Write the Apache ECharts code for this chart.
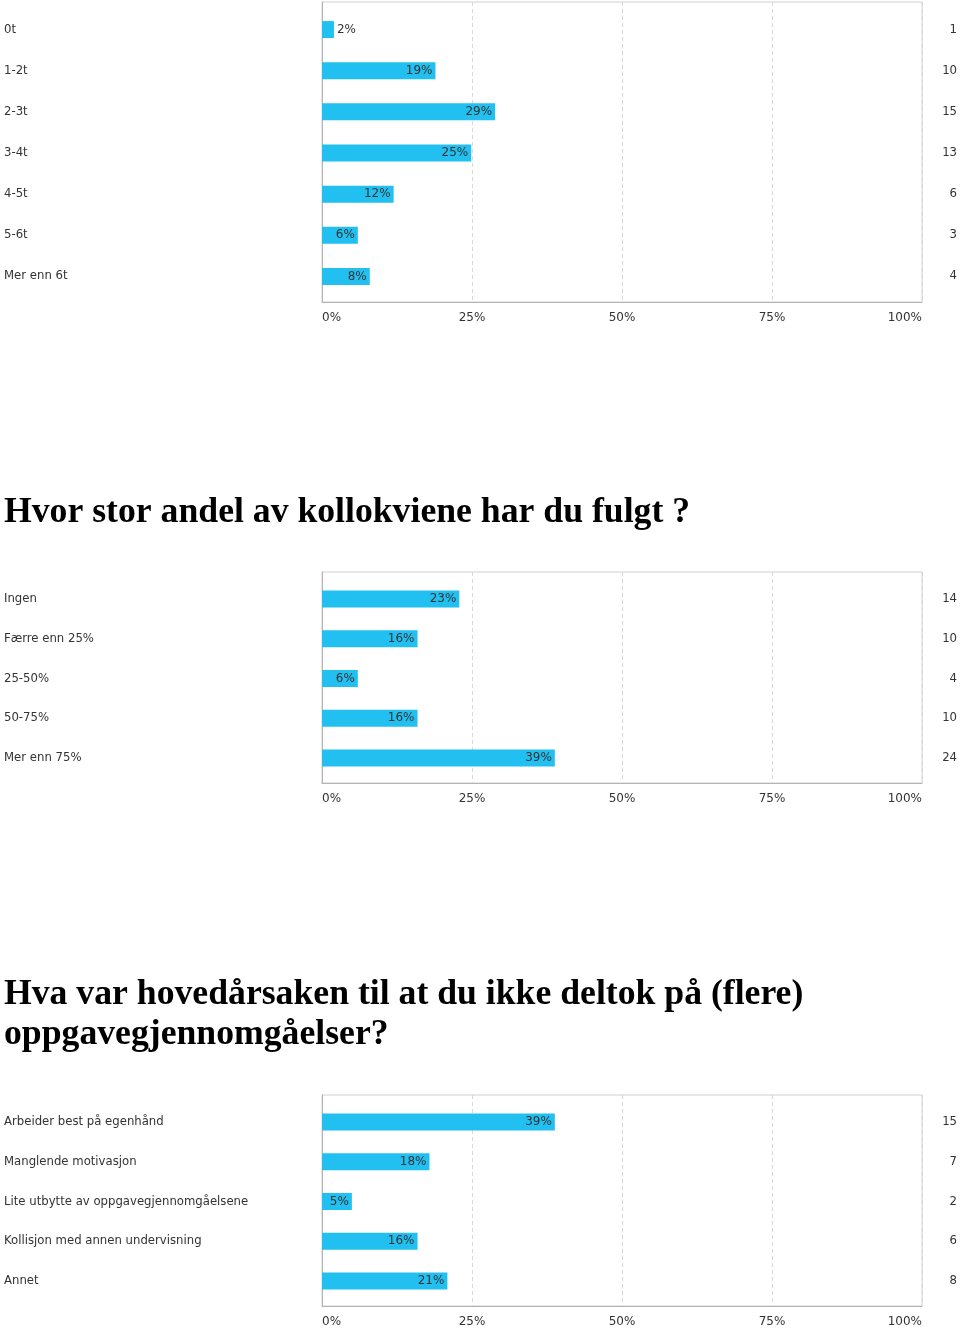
<!DOCTYPE html>
<html><head><meta charset="utf-8">
<script src="https://cdn.jsdelivr.net/npm/echarts@6/dist/echarts.min.js"></script>
<style>html,body{margin:0;padding:0;background:#fff}#c{width:960px;height:1330px}</style>
</head><body><div id="c"></div>
<script>
// Chart 1 (top, title cut off)
const cats1 = ['0t','1-2t','2-3t','3-4t','4-5t','5-6t','Mer enn 6t'];
const pct1 = [2,19,29,25,12,6,8];
const cnt1 = [1,10,15,13,6,3,4];
// Chart 2
const title2 = 'Hvor stor andel av kollokviene har du fulgt ?';
const cats2 = ['Ingen','Færre enn 25%','25-50%','50-75%','Mer enn 75%'];
const pct2 = [23,16,6,16,39];
const cnt2 = [14,10,4,10,24];
// Chart 3
const title3 = 'Hva var hovedårsaken til at du ikke deltok på (flere)\noppgavegjennomgåelser?';
const cats3 = ['Arbeider best på egenhånd','Manglende motivasjon','Lite utbytte av oppgavegjennomgåelsene','Kollisjon med annen undervisning','Annet'];
const pct3 = [39,18,5,16,21];
const cnt3 = [15,7,2,6,8];
const xTicks = [0,25,50,75,100];

const FONT = 'DejaVu Sans';
const BAR = '#21c0f0';
const charts = [
  {cats:cats1, pct:pct1, cnt:cnt1, top:2, height:300},
  {cats:cats2, pct:pct2, cnt:cnt2, top:572, height:211},
  {cats:cats3, pct:pct3, cnt:cnt3, top:1095, height:211}
];
const INSET = 6;
const grid=[], xAxis=[], yAxis=[], series=[];
charts.forEach((c,k)=>{
  const gf = grid.length;
  grid.push({left:322, width:600, top:c.top, height:c.height, show:true, borderColor:'#d0d0d0', borderWidth:1, backgroundColor:'#fff'});
  xAxis.push({type:'value', gridIndex:gf, min:xTicks[0], max:xTicks[xTicks.length-1], interval:xTicks[1]-xTicks[0],
    axisLine:{show:true, onZero:false, lineStyle:{color:'#b4b4b4'}}, axisTick:{show:false},
    splitLine:{show:true, lineStyle:{color:'#d8d8d8', type:[4,3]}},
    axisLabel:{formatter:'{value}%', color:'#333', fontFamily:FONT, fontSize:12, margin:10, alignMinLabel:'left', alignMaxLabel:'right'}});
  yAxis.push({type:'value', gridIndex:gf, min:0, max:1, axisLine:{show:true, lineStyle:{color:'#b4b4b4'}}, axisTick:{show:false}, axisLabel:{show:false}, splitLine:{show:false}});
  const gi = grid.length;
  grid.push({left:322, width:600, top:c.top+INSET+1, height:c.height-2*INSET});
  const xi = xAxis.length;
  xAxis.push({type:'value', gridIndex:gi, min:0, max:100, show:false, splitLine:{show:false}});
  const yi = yAxis.length;
  yAxis.push({type:'category', gridIndex:gi, data:c.cats, inverse:true, position:'left',
    axisLine:{show:false}, axisTick:{show:false},
    axisLabel:{align:'left', margin:318, color:'#333', fontFamily:FONT, fontSize:11.7}});
  yAxis.push({type:'category', gridIndex:gi, data:c.cnt.map(String), inverse:true, position:'right',
    axisLine:{show:false}, axisTick:{show:false},
    axisLabel:{align:'right', margin:38, color:'#333', fontFamily:FONT, fontSize:11.7}});
  series.push({type:'bar', xAxisIndex:xi, yAxisIndex:yi, barWidth:17,
    itemStyle:{color:BAR},
    data:c.pct.map(v=>({value:v, label:{position: v<4?'right':'insideRight'}})),
    label:{show:true, formatter:'{c}%', distance:3, color:'#333', fontFamily:FONT, fontSize:12},
    silent:true, animation:false});
});

const chart = echarts.init(document.getElementById('c'), null, {renderer:'canvas'});
chart.setOption({
  animation:false,
  backgroundColor:'#fff',
  title:[
    {text:title2, left:4, top:493, padding:0, textStyle:{fontFamily:'Liberation Serif', fontWeight:'bold', fontSize:35.7, color:'#000', lineHeight:40}},
    {text:title3, left:4, top:975, padding:0, textStyle:{fontFamily:'Liberation Serif', fontWeight:'bold', fontSize:35.7, color:'#000', lineHeight:40}}
  ],
  grid, xAxis, yAxis, series
});
</script></body></html>
